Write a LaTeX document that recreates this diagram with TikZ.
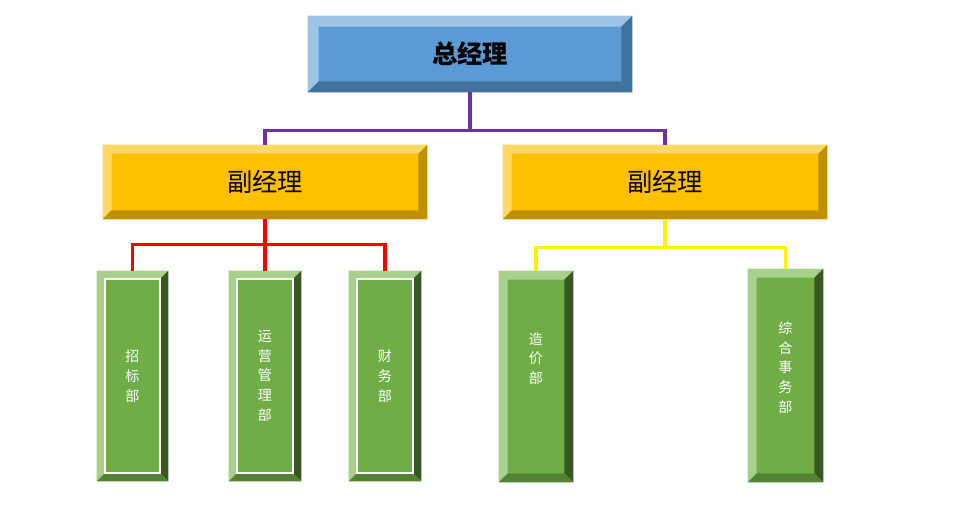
\documentclass[tikz,border=0pt]{standalone}
\usepackage{fontspec}
\setmainfont{Noto Sans CJK SC}
\usetikzlibrary{calc}
\definecolor{bluef}{HTML}{5B9BD5}
\definecolor{bluel}{HTML}{9DC3E6}
\definecolor{blued}{HTML}{41719C}
\definecolor{goldf}{HTML}{FFC000}
\definecolor{goldl}{HTML}{FFD966}
\definecolor{goldd}{HTML}{BF9000}
\definecolor{greenf}{HTML}{70AD47}
\definecolor{greenl}{HTML}{A9D18E}
\definecolor{greend}{HTML}{385723}
\definecolor{greenm}{HTML}{548235}
\definecolor{linep}{HTML}{7030A0}
\tikzset{
  boss/.style={fill=bluef,minimum width=324*0.025cm,minimum height=76*0.025cm,inner sep=0},
  deputy/.style={fill=goldf,minimum width=324*0.025cm,minimum height=74*0.025cm,inner sep=0},
  dept/.style={fill=greenf,minimum height=210*0.025cm,inner sep=0},
  depttext/.style={text=white,align=center,font=\fontsize{10}{14}\selectfont},
  link/.style={line width=3.5*0.025cm}
}
% name, depth, top, left, right, bottom
\newcommand\bevel[6]{%
  \fill[#3] (#1.north west) -- (#1.north east) -- ($(#1.north east)+(-#2,-#2)$) -- ($(#1.north west)+(#2,-#2)$) -- cycle;
  \fill[#4] (#1.north west) -- (#1.south west) -- ($(#1.south west)+(#2,#2)$) -- ($(#1.north west)+(#2,-#2)$) -- cycle;
  \fill[#5] (#1.north east) -- (#1.south east) -- ($(#1.south east)+(-#2,#2)$) -- ($(#1.north east)+(-#2,-#2)$) -- cycle;
  \fill[#6] (#1.south west) -- (#1.south east) -- ($(#1.south east)+(-#2,#2)$) -- ($(#1.south west)+(#2,#2)$) -- cycle;}
\begin{document}
\begin{tikzpicture}[x=0.025cm,y=0.025cm]
  \useasboundingbox (0,0) rectangle (962,508);
  \node[boss] (gm) at (470,454) {};
  \bevel{gm}{11}{bluel}{bluel}{blued}{blued}
  \node[font=\bfseries\fontsize{18}{20}\selectfont] at (gm) {总经理};

  \node[deputy] (vp1) at (265,326) {};
  \bevel{vp1}{9}{goldl}{goldl}{goldd}{goldd}
  \node[font=\fontsize{18}{20}\selectfont] at (vp1) {副经理};
  \node[deputy] (vp2) at (665,326) {};
  \bevel{vp2}{9}{goldl}{goldl}{goldd}{goldd}
  \node[font=\fontsize{18}{20}\selectfont] at (vp2) {副经理};

  \node[dept,minimum width=71*0.025cm] (d1) at (132.5,132) {};
  \node[dept,minimum width=72*0.025cm] (d2) at (265,132) {};
  \node[dept,minimum width=72*0.025cm] (d3) at (385,132) {};
  \node[dept,minimum width=74*0.025cm,minimum height=211*0.025cm] (d4) at (536,131.5) {};
  \node[dept,minimum width=75*0.025cm,minimum height=213*0.025cm] (d5) at (785.5,132.5) {};
  \foreach \d in {d1,d2,d3}{
    \bevel{\d}{8}{greenl}{greenl}{greend}{greenm}
    \draw[white,line width=1.2] ($(\d.north west)+(8,-8)$) rectangle ($(\d.south east)+(-8,8)$);
  }
  \foreach \d in {d4,d5}{
    \bevel{\d}{9}{greenl}{greenl}{greend}{greenm}
  }
  \node[depttext] at (d1) {招\\标\\部};
  \node[depttext] at (d2) {运\\营\\管\\理\\部};
  \node[depttext] at (d3) {财\\务\\部};
  \node[depttext] at ($(d4)+(0,18)$) {造\\价\\部};
  \node[depttext] at ($(d5)+(0,8)$) {综\\合\\事\\务\\部};

  \draw[link,linep] (gm.south) -- ++(0,-38) -| (vp1.north);
  \draw[link,linep] (gm.south) -- ++(0,-38) -| (vp2.north);
  \draw[link,red] (vp1.south) -- ++(0,-25) -| (d1.north);
  \draw[link,red] (vp1.south) -- ++(0,-25) -| (d2.north);
  \draw[link,red] (vp1.south) -- ++(0,-25) -| (d3.north);
  \draw[link,yellow] (vp2.south) -- ++(0,-28) -| (d4.north);
  \draw[link,yellow] (vp2.south) -- ++(0,-28) -| (d5.north);
\end{tikzpicture}
\end{document}
